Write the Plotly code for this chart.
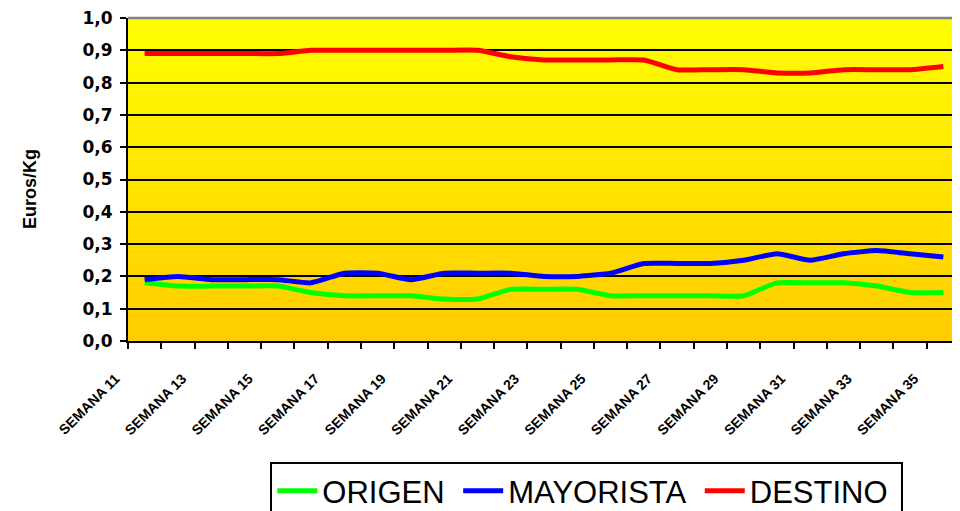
import base64

import plotly.graph_objects as go

WEEKS = list(range(11, 36))
WEEK_LABELS = [f"SEMANA {w}" for w in WEEKS]

ORIGEN = [0.18, 0.17, 0.17, 0.17, 0.17, 0.15, 0.14, 0.14, 0.14, 0.13, 0.13, 0.16, 0.16,
          0.16, 0.14, 0.14, 0.14, 0.14, 0.14, 0.18, 0.18, 0.18, 0.17, 0.15, 0.15]
MAYORISTA = [0.19, 0.20, 0.19, 0.19, 0.19, 0.18, 0.21, 0.21, 0.19, 0.21, 0.21, 0.21, 0.20,
             0.20, 0.21, 0.24, 0.24, 0.24, 0.25, 0.27, 0.25, 0.27, 0.28, 0.27, 0.26]
DESTINO = [0.89, 0.89, 0.89, 0.89, 0.89, 0.90, 0.90, 0.90, 0.90, 0.90, 0.90, 0.88, 0.87,
           0.87, 0.87, 0.87, 0.84, 0.84, 0.84, 0.83, 0.83, 0.84, 0.84, 0.84, 0.85]

SERIES = [
    ("ORIGEN", ORIGEN, "#00FF00"),
    ("MAYORISTA", MAYORISTA, "#0000FF"),
    ("DESTINO", DESTINO, "#FF0000"),
]

FONT = "Arial, Liberation Sans, sans-serif"
WIDE_FONT = "DejaVu Sans, Arial, sans-serif"

# vertical yellow -> orange gradient behind the grid
svg = (
    '<svg xmlns="http://www.w3.org/2000/svg" width="10" height="100" preserveAspectRatio="none">'
    '<defs><linearGradient id="g" x1="0" y1="0" x2="0" y2="1">'
    '<stop offset="0" stop-color="#FFFF00"/><stop offset="1" stop-color="#FFCC00"/>'
    '</linearGradient></defs><rect width="10" height="100" fill="url(#g)"/></svg>'
)
bg_src = "data:image/svg+xml;base64," + base64.b64encode(svg.encode()).decode()

fig = go.Figure()
for name, vals, color in SERIES:
    fig.add_trace(go.Scatter(
        x=WEEKS,
        y=vals,
        name=name + "\u00a0",  # a little extra room between legend entries
        mode="lines",
        line=dict(color=color, width=5, shape="spline", smoothing=0.5),
    ))

fig.add_layout_image(
    source=bg_src, xref="paper", yref="paper", x=0, y=1, sizex=1, sizey=1,
    xanchor="left", yanchor="top", sizing="stretch", layer="below",
)
fig.add_shape(
    type="line", xref="paper", yref="paper", x0=0, x1=1, y0=1, y1=1,
    line=dict(color="#808080", width=2.5), layer="above",
)
fig.add_annotation(
    text="<b>Euros/Kg</b>", textangle=-90, xref="paper", yref="paper",
    x=-0.118, y=0.47, xanchor="center", yanchor="middle", showarrow=False,
    font=dict(family=FONT, size=18, color="black"),
)

# page body has an 8px margin, so the figure is 8px smaller than the window
fig.update_layout(
    width=952,
    height=503,
    margin=dict(l=120, r=0, t=10, b=170, autoexpand=False),
    paper_bgcolor="white",
    plot_bgcolor="rgba(0,0,0,0)",
    separators=",.",
    font=dict(family=FONT, color="black"),
    showlegend=True,
    legend=dict(
        orientation="h",
        x=0.171, xanchor="left",
        y=-0.375, yanchor="top",
        bgcolor="white",
        bordercolor="black",
        borderwidth=2,
        font=dict(family=FONT, size=31, color="black"),
        itemwidth=40,
    ),
    xaxis=dict(
        range=[WEEKS[0] - 0.5, WEEKS[-1] + 0.5],
        tickmode="array",
        tickvals=WEEKS[::2],
        ticktext=WEEK_LABELS[::2],
        tickangle=-45,
        ticks="",
        ticklabelshift=-29,
        ticklabelstandoff=22,
        ticklabeloverflow="allow",
        tickfont=dict(family=FONT, size=14, color="black", weight="bold"),
        minor=dict(ticks="outside", tickmode="linear", tick0=10.5, dtick=1,
                   ticklen=6, tickwidth=1.5, tickcolor="black", showgrid=False),
        showgrid=False,
        showline=True,
        linecolor="black",
        linewidth=2,
        zeroline=False,
        automargin=False,
    ),
    yaxis=dict(
        range=[0, 1],
        dtick=0.1,
        tick0=0,
        tickformat=".1f",
        ticks="outside",
        ticklen=6,
        tickwidth=1.5,
        tickcolor="black",
        ticklabelstandoff=4,
        ticklabeloverflow="allow",
        tickfont=dict(family=WIDE_FONT, size=17, color="black", weight="bold"),
        showgrid=True,
        gridcolor="black",
        gridwidth=1.5,
        showline=True,
        linecolor="black",
        linewidth=2,
        zeroline=False,
        automargin=False,
    ),
)

fig.write_html("out.html")
